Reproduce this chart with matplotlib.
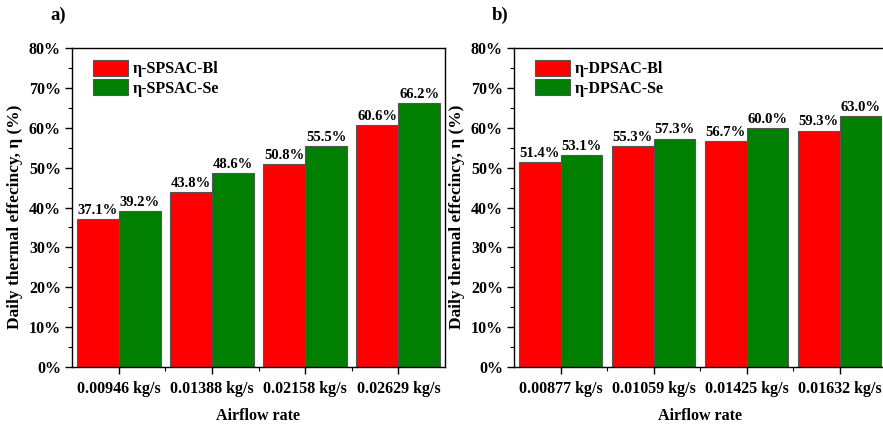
import matplotlib
matplotlib.use("Agg")
import matplotlib.pyplot as plt
import numpy as np
from matplotlib.ticker import MultipleLocator, FixedLocator, FuncFormatter

plt.rcParams['font.family'] = ['Liberation Serif', 'DejaVu Serif']
plt.rcParams['font.weight'] = 'bold'

# Panel a) single-pass collector
rates_a = ["0.00946 kg/s", "0.01388 kg/s", "0.02158 kg/s", "0.02629 kg/s"]
spsac_bl = [37.1, 43.8, 50.8, 60.6]
spsac_se = [39.2, 48.6, 55.5, 66.2]

# Panel b) double-pass collector
rates_b = ["0.00877 kg/s", "0.01059 kg/s", "0.01425 kg/s", "0.01632 kg/s"]
dpsac_bl = [51.4, 55.3, 56.7, 59.3]
dpsac_se = [53.1, 57.3, 60.0, 63.0]

RED = "#ff0000"
GREEN = "#007f00"
EDGE = "#555555"

fig = plt.figure(figsize=(8.83, 4.24), dpi=100)
ax_a = fig.add_axes([72/883, 1-367/424, (445-72)/883, (367-48)/424])
ax_b = fig.add_axes([514/883, 1-367/424, (886-514)/883, (367-48)/424])


def draw_panel(ax, cats, bl, se, lab_bl, lab_se, tag, show_right):
    x = np.arange(len(cats))
    w = 0.45
    b1 = ax.bar(x - w/2, bl, w, color=RED, edgecolor=EDGE, linewidth=0.8, label=lab_bl)
    b2 = ax.bar(x + w/2, se, w, color=GREEN, edgecolor=EDGE, linewidth=0.8, label=lab_se)
    for bars, vals in ((b1, bl), (b2, se)):
        for rect, v in zip(bars, vals):
            ax.annotate(f"{v:.1f}%", (rect.get_x() + rect.get_width()/2, v),
                        xytext=(0, 1.5), textcoords="offset points",
                        ha="center", va="bottom", fontsize=10.5, fontweight="bold")
    ax.set_xlim(-0.5, len(cats) - 0.5)
    ax.set_ylim(0, 80)
    ax.set_xticks(x)
    ax.set_xticklabels(cats, fontsize=11.5, fontweight="bold")
    ax.xaxis.set_minor_locator(FixedLocator(x[:-1] + 0.5))
    ax.yaxis.set_major_locator(MultipleLocator(10))
    ax.yaxis.set_minor_locator(MultipleLocator(5))
    ax.yaxis.set_major_formatter(FuncFormatter(lambda v, p: f"{v:.0f}%"))
    for lbl in ax.get_yticklabels():
        lbl.set_fontweight("bold")
    ax.tick_params(axis="both", which="major", labelsize=11.5, length=5, width=1.0, direction="out")
    ax.tick_params(axis="both", which="minor", length=3, width=0.8, direction="out")
    ax.tick_params(axis="x", which="major", pad=5)
    ax.tick_params(axis="y", which="major", pad=3)
    for s in ax.spines.values():
        s.set_linewidth(1.0)
    ax.spines["right"].set_visible(show_right)
    ax.set_xlabel("Airflow rate", fontsize=11.5, fontweight="bold", labelpad=8)
    ax.set_ylabel("Daily thermal effecincy, η (%)", fontsize=12.5, fontweight="bold")
    ax.yaxis.set_label_coords(-0.132, 0.47)
    ax.legend(loc="upper left", bbox_to_anchor=(21/373, 1 - 12/319), borderaxespad=0,
              frameon=False, handlelength=2.2, handleheight=1.15,
              labelspacing=0.12, handletextpad=0.3, borderpad=0,
              prop={"weight": "bold", "size": 11.5})
    ax.text(-0.0375, 1.103, tag, transform=ax.transAxes, fontsize=13.5, fontweight="bold",
            ha="center", va="center")


draw_panel(ax_a, rates_a, spsac_bl, spsac_se, "η-SPSAC-Bl", "η-SPSAC-Se", "a)", True)
draw_panel(ax_b, rates_b, dpsac_bl, dpsac_se, "η-DPSAC-Bl", "η-DPSAC-Se", "b)", False)

fig.savefig("out.png", dpi=100)
